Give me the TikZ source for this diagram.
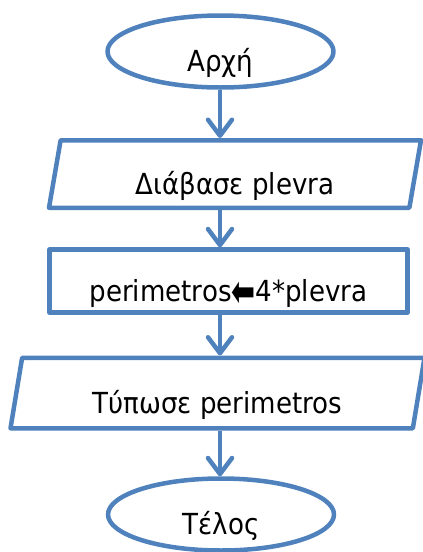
\documentclass[tikz,border=0pt]{standalone}
\usepackage{fontspec}
\setmainfont[FakeStretch=0.9]{DejaVu Sans}
\usetikzlibrary{arrows.meta}
\usetikzlibrary{shapes.geometric}

\begin{document}
\begin{tikzpicture}[x=1pt, y=-1pt,
    every node/.style={draw=flowblue, line width=4.5pt, line join=round, text height=40pt,
        text depth=0pt, font=\fontsize{29pt}{32pt}\selectfont},
    terminal/.style={ellipse, minimum width=226pt, minimum height=72pt},
    iobox/.style={trapezium, trapezium left angle=76, trapezium right angle=104,
        trapezium stretches body},
    procbox/.style={rectangle, minimum width=358pt, minimum height=63pt},
    flow/.style={draw=flowblue, line width=4.5pt,
        -{Straight Barb[length=16pt, width=24pt, line cap=round, line join=round]}}]
    \definecolor{flowblue}{HTML}{4F81BD}
    \useasboundingbox (0,0) rectangle (423,552);
    \coordinate (axis) at (220,0);

    \node[terminal] (start) at (220.5, 51.5) {Αρχή};
    \node[iobox, minimum width=372pt, minimum height=67.5pt] (read) at (235, 174) {Διάβασε plevra};
    \node[procbox] (calc) at (228.5, 281) {perimetros\raisebox{-0.18em}{\scalebox{1.1}[1.5]{⬅}}4*plevra};
    \node[iobox, minimum width=414pt, minimum height=70.5pt] (print) at (217.5, 393) {Τύπωσε perimetros};
    \node[terminal] (stop) at (221, 514.5) {Τέλος};

    \draw[flow] (start.south -| axis) -- (read.north -| axis);
    \draw[flow] (read.south -| axis) -- (calc.north -| axis);
    \draw[flow] (calc.south -| axis) -- (print.north -| axis);
    \draw[flow] (print.south -| axis) -- (stop.north -| axis);
\end{tikzpicture}
\end{document}
